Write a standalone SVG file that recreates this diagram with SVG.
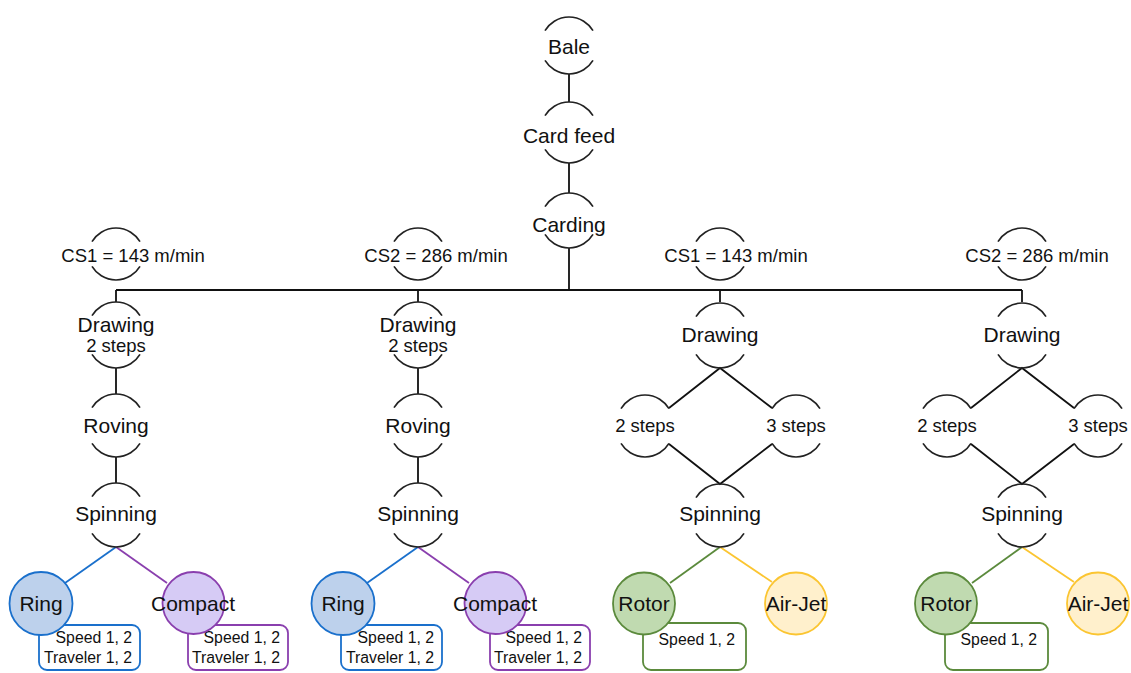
<svg xmlns="http://www.w3.org/2000/svg" xmlns:xlink="http://www.w3.org/1999/xlink" width="1131" height="673" viewBox="0 0 1131 673">
<style>
.arc{fill:none;stroke:#222;stroke-width:1.7}
.ln{fill:none;stroke:#111;stroke-width:1.8}
.t{font-family:"Liberation Sans",Arial,sans-serif;fill:#111;text-anchor:middle}
.lg{font-size:21px}
.md{font-size:18.5px}
.sm{font-size:15.8px;text-anchor:end}
.blue{stroke:#1a70cc}
.purple{stroke:#8a3fae}
.green{stroke:#5b8a3c}
.yellow{stroke:#fbc531}
.cl{stroke-width:1.8;fill:none}
.box{fill:#fff;stroke-width:1.8}
</style>
<defs>
<path id="aT" class="arc" d="M -24 13.6 A 28 28 0 0 1 24 13.6"/>
<path id="aB" class="arc" d="M -24 -13.6 A 28 28 0 0 0 24 -13.6"/>
</defs>
<rect width="1131" height="673" fill="#fff"/>

<g id="connectors">
<path class="ln" d="M569 74 V102 M569 163 V193 M569 248 V290 M116 290 H1022 M116 290 V302 M418 290 V302 M720 290 V302 M1022 290 V302"/>
<path class="ln" d="M116 368 V394 M116 457 V483 M418 368 V394 M418 457 V483"/>
<path class="ln" d="M669 408 L720 368 L772 408 M669 444 L720 484 L772 444"/>
<path class="ln" d="M971 408 L1022 368 L1074 408 M971 444 L1022 484 L1074 444"/>
<path class="cl blue" d="M116 547 L65 583"/>
<path class="cl purple" d="M116 547 L167 583"/>
<path class="cl blue" d="M418 547 L367 583"/>
<path class="cl purple" d="M418 547 L469 583"/>
<path class="cl green" d="M720 547 L670 583"/>
<path class="cl yellow" d="M720 547 L772 582"/>
<path class="cl green" d="M1022 547 L972 583"/>
<path class="cl yellow" d="M1022 547 L1074 582"/>
</g>

<g id="bale"><use href="#aT" x="569" y="17"/><use href="#aB" x="569" y="74"/><text class="t lg" x="569" y="54">Bale</text></g>
<g id="cardfeed"><use href="#aT" x="569" y="102"/><use href="#aB" x="569" y="163"/><text class="t lg" x="569" y="143">Card feed</text></g>
<g id="carding"><use href="#aT" x="569" y="193"/><use href="#aB" x="569" y="248"/><text class="t lg" x="569" y="232">Carding</text></g>

<g id="cs1a"><use href="#aT" x="116" y="228"/><use href="#aB" x="116" y="280"/><text class="t md" x="133" y="262">CS1 = 143 m/min</text></g>
<g id="cs2a"><use href="#aT" x="418" y="228"/><use href="#aB" x="418" y="280"/><text class="t md" x="436" y="262">CS2 = 286 m/min</text></g>
<g id="cs1b"><use href="#aT" x="720" y="228"/><use href="#aB" x="720" y="280"/><text class="t md" x="736" y="262">CS1 = 143 m/min</text></g>
<g id="cs2b"><use href="#aT" x="1022" y="228"/><use href="#aB" x="1022" y="280"/><text class="t md" x="1037" y="262">CS2 = 286 m/min</text></g>

<g id="drawing1"><use href="#aT" x="116" y="302"/><use href="#aB" x="116" y="368"/><text class="t lg" x="116" y="332">Drawing</text><text class="t md" x="116" y="352">2 steps</text></g>
<g id="roving1"><use href="#aT" x="116" y="394"/><use href="#aB" x="116" y="457"/><text class="t lg" x="116" y="433">Roving</text></g>
<g id="spinning1"><use href="#aT" x="116" y="483"/><use href="#aB" x="116" y="547"/><text class="t lg" x="116" y="521">Spinning</text></g>

<g id="drawing2"><use href="#aT" x="418" y="302"/><use href="#aB" x="418" y="368"/><text class="t lg" x="418" y="332">Drawing</text><text class="t md" x="418" y="352">2 steps</text></g>
<g id="roving2"><use href="#aT" x="418" y="394"/><use href="#aB" x="418" y="457"/><text class="t lg" x="418" y="433">Roving</text></g>
<g id="spinning2"><use href="#aT" x="418" y="483"/><use href="#aB" x="418" y="547"/><text class="t lg" x="418" y="521">Spinning</text></g>

<g id="drawing3"><use href="#aT" x="720" y="303"/><use href="#aB" x="720" y="368"/><text class="t lg" x="720" y="342">Drawing</text></g>
<g id="steps2c"><use href="#aT" x="645" y="395"/><use href="#aB" x="645" y="457"/><text class="t md" x="645" y="432">2 steps</text></g>
<g id="steps3c"><use href="#aT" x="796" y="395"/><use href="#aB" x="796" y="457"/><text class="t md" x="796" y="432">3 steps</text></g>
<g id="spinning3"><use href="#aT" x="720" y="484"/><use href="#aB" x="720" y="547"/><text class="t lg" x="720" y="521">Spinning</text></g>

<g id="drawing4"><use href="#aT" x="1022" y="303"/><use href="#aB" x="1022" y="368"/><text class="t lg" x="1022" y="342">Drawing</text></g>
<g id="steps2d"><use href="#aT" x="947" y="395"/><use href="#aB" x="947" y="457"/><text class="t md" x="947" y="432">2 steps</text></g>
<g id="steps3d"><use href="#aT" x="1098" y="395"/><use href="#aB" x="1098" y="457"/><text class="t md" x="1098" y="432">3 steps</text></g>
<g id="spinning4"><use href="#aT" x="1022" y="484"/><use href="#aB" x="1022" y="547"/><text class="t lg" x="1022" y="521">Spinning</text></g>

<g id="ring1-box"><rect class="box blue" x="39" y="625" width="101" height="45" rx="8"/><text class="t sm" x="132" y="643">Speed 1, 2</text><text class="t sm" x="132" y="663">Traveler 1, 2</text></g>
<g id="ring1"><circle cx="41" cy="603.5" r="31.5" fill="#bdd1ec" class="blue" stroke-width="1.8"/><text class="t lg" x="41" y="611">Ring</text></g>
<g id="compact1-box"><rect class="box purple" x="188" y="625" width="100" height="45" rx="8"/><text class="t sm" x="280" y="643">Speed 1, 2</text><text class="t sm" x="280" y="663">Traveler 1, 2</text></g>
<g id="compact1"><circle cx="193.5" cy="603" r="31" fill="#d6cbf5" class="purple" stroke-width="1.8"/><text class="t lg" x="193" y="611">Compact</text></g>

<g id="ring2-box"><rect class="box blue" x="341" y="625" width="101" height="45" rx="8"/><text class="t sm" x="434" y="643">Speed 1, 2</text><text class="t sm" x="434" y="663">Traveler 1, 2</text></g>
<g id="ring2"><circle cx="343" cy="603.5" r="31.5" fill="#bdd1ec" class="blue" stroke-width="1.8"/><text class="t lg" x="343" y="611">Ring</text></g>
<g id="compact2-box"><rect class="box purple" x="490" y="625" width="100" height="45" rx="8"/><text class="t sm" x="582" y="643">Speed 1, 2</text><text class="t sm" x="582" y="663">Traveler 1, 2</text></g>
<g id="compact2"><circle cx="495.5" cy="603" r="31" fill="#d6cbf5" class="purple" stroke-width="1.8"/><text class="t lg" x="495" y="611">Compact</text></g>

<g id="rotor1-box"><rect class="box green" x="643" y="623" width="103" height="47" rx="8"/><text class="t sm" x="735" y="645">Speed 1, 2</text></g>
<g id="rotor1"><circle cx="644" cy="603.5" r="31" fill="#c0dab0" class="green" stroke-width="1.8"/><text class="t lg" x="644" y="611">Rotor</text></g>
<g id="airjet1"><circle cx="796" cy="603.5" r="31" fill="#fff0cc" class="yellow" stroke-width="1.8"/><text class="t lg" x="796" y="611">Air-Jet</text></g>

<g id="rotor2-box"><rect class="box green" x="945" y="623" width="103" height="47" rx="8"/><text class="t sm" x="1037" y="645">Speed 1, 2</text></g>
<g id="rotor2"><circle cx="946" cy="603.5" r="31" fill="#c0dab0" class="green" stroke-width="1.8"/><text class="t lg" x="946" y="611">Rotor</text></g>
<g id="airjet2"><circle cx="1098" cy="603.5" r="31" fill="#fff0cc" class="yellow" stroke-width="1.8"/><text class="t lg" x="1098" y="611">Air-Jet</text></g>
</svg>
